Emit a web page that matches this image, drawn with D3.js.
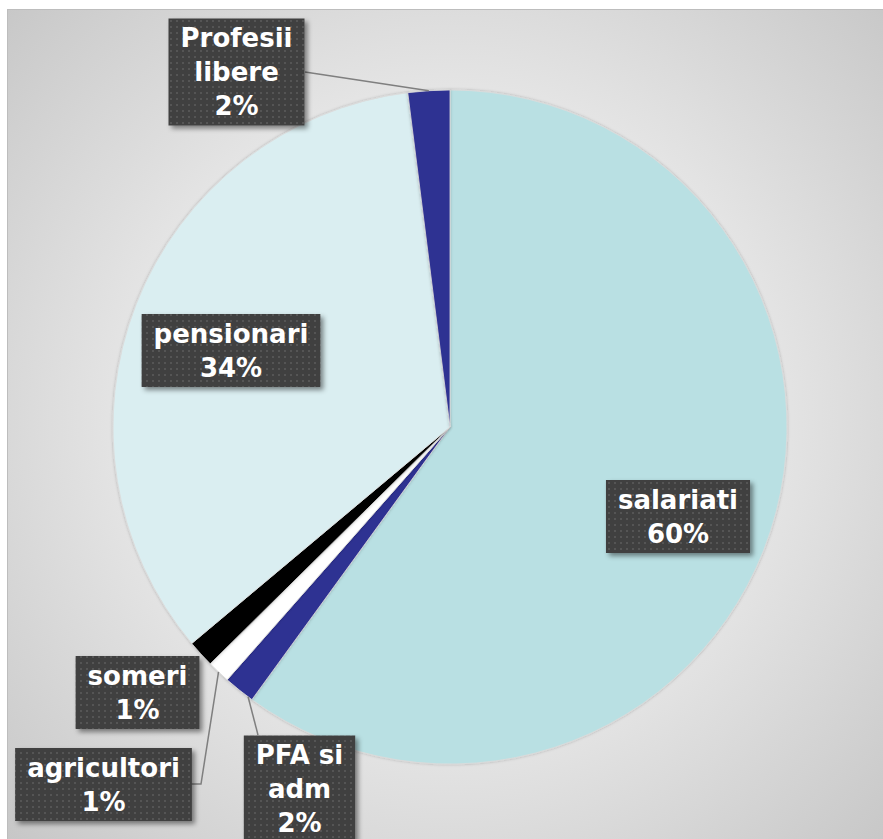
<!DOCTYPE html>
<html>
<head>
<meta charset="utf-8">
<script src="https://cdn.jsdelivr.net/npm/d3@7/dist/d3.min.js"></script>
<style>
  html, body { margin: 0; padding: 0; background: #fff; }
  svg { display: block; }
</style>
</head>
<body>
<div id="chart"></div>
<script>
// slice order, clockwise from 12 o'clock
const categories = ['salariati', 'PFA si adm', 'agricultori', 'someri', 'pensionari', 'Profesii libere']
const values = [60.0, 1.5, 1.1, 1.3, 34.1, 2.0]
const labelLines = [['salariati'], ['PFA si', 'adm'], ['agricultori'], ['someri'], ['pensionari'], ['Profesii', 'libere']]
const colors = ['#b9e0e3', '#2e3192', '#ffffff', '#000000', '#daeef1', '#2e3192']

const width = 883, height = 839
const center = { x: 450, y: 427 }
const radius = 337

// where the label boxes sit (box centres), and how leader lines are routed
const labelLayout = {
  'salariati':       { cx: 678,   cy: 516.5 },
  'PFA si adm':      { cx: 299.5, cy: 789, leader: [[258, 735]], t: 0.15 },
  'agricultori':     { cx: 103.5, cy: 784.5, leader: [[190, 784], [201, 784]], t: 0.5 },
  'someri':          { cx: 137.5, cy: 692.5 },
  'pensionari':      { cx: 231,   cy: 350.5 },
  'Profesii libere': { cx: 236.5, cy: 72, leader: [[305, 72]], t: 0.5 }
}

const data = categories.map((c, i) => ({ name: c, value: values[i], lines: labelLines[i], color: colors[i] }))
const total = d3.sum(values)

const svg = d3.select('#chart').append('svg')
  .attr('width', width)
  .attr('height', height)

const defs = svg.append('defs')

const bg = defs.append('radialGradient')
  .attr('id', 'bg')
  .attr('gradientUnits', 'userSpaceOnUse')
  .attr('cx', center.x).attr('cy', center.y - 10)
  .attr('r', 620)
bg.append('stop').attr('offset', '0').attr('stop-color', '#ffffff')
bg.append('stop').attr('offset', '0.35').attr('stop-color', '#f0f0f0')
bg.append('stop').attr('offset', '1').attr('stop-color', '#c6c6c6')

// dotted texture used on label boxes
const dots = defs.append('pattern')
  .attr('id', 'dots')
  .attr('width', 6).attr('height', 6)
  .attr('patternUnits', 'userSpaceOnUse')
dots.append('rect').attr('width', 6).attr('height', 6).attr('fill', '#3f3f3f')
dots.append('rect').attr('x', 2).attr('y', 2).attr('width', 2).attr('height', 2).attr('fill', '#545454')

const shadow = defs.append('filter').attr('id', 'shadow')
  .attr('x', '-20%').attr('y', '-20%').attr('width', '150%').attr('height', '150%')
shadow.append('feDropShadow')
  .attr('dx', 3).attr('dy', 3).attr('stdDeviation', 2.5)
  .attr('flood-color', '#000').attr('flood-opacity', 0.45)

const pieShadow = defs.append('filter').attr('id', 'pieShadow')
  .attr('x', '-10%').attr('y', '-10%').attr('width', '120%').attr('height', '120%')
pieShadow.append('feDropShadow')
  .attr('dx', 0).attr('dy', 0).attr('stdDeviation', 1.5)
  .attr('flood-color', '#000').attr('flood-opacity', 0.25)

// chart area
svg.append('rect')
  .attr('x', 7.5).attr('y', 9.5)
  .attr('width', width).attr('height', height)
  .attr('fill', 'url(#bg)')
  .attr('stroke', '#bdbdbd')
  .attr('stroke-width', 1)

const pie = d3.pie().sort(null).value(d => d.value)
const arcs = pie(data)
const arc = d3.arc().innerRadius(0).outerRadius(radius)

const g = svg.append('g').attr('transform', `translate(${center.x},${center.y})`)

g.selectAll('.slice')
  .data(arcs)
  .enter().append('path')
  .classed('slice', true)
  .attr('d', arc)
  .attr('fill', d => d.data.color)
  .attr('stroke', '#dcdcdc')
  .attr('stroke-width', 0.8)
  .attr('filter', 'url(#pieShadow)')

// leader lines
const pointOnArc = (d, t) => {
  const a = d.startAngle + (d.endAngle - d.startAngle) * t
  return [center.x + Math.sin(a) * radius, center.y - Math.cos(a) * radius]
}

svg.selectAll('.leader')
  .data(arcs.filter(d => labelLayout[d.data.name].leader))
  .enter().append('polyline')
  .classed('leader', true)
  .attr('points', d => {
    const l = labelLayout[d.data.name]
    return l.leader.concat([pointOnArc(d, l.t)]).map(p => p.join(',')).join(' ')
  })
  .attr('fill', 'none')
  .attr('stroke', '#7f7f7f')
  .attr('stroke-width', 1.5)

// label boxes
const lineH = 34
const labels = svg.selectAll('.label')
  .data(arcs)
  .enter().append('g')
  .classed('label', true)

labels.each(function (d) {
  const l = labelLayout[d.data.name]
  const sel = d3.select(this)
  const lines = d.data.lines.concat([Math.round(d.data.value / total * 100) + '%'])
  const box = sel.append('rect').attr('fill', 'url(#dots)').attr('filter', 'url(#shadow)')
  const text = sel.append('text')
    .attr('fill', '#ffffff')
    .attr('font-family', '"DejaVu Sans", Verdana, sans-serif')
    .attr('font-weight', 'bold')
    .attr('font-size', 26)
    .attr('text-anchor', 'middle')
  const y0 = l.cy - (lines.length - 1) * lineH / 2
  lines.forEach((s, i) => {
    text.append('tspan')
      .attr('x', l.cx)
      .attr('y', y0 + i * lineH)
      .attr('dy', '0.36em')
      .text(s)
  })
  const w = text.node().getBBox().width + 24
  const h = lines.length * lineH + 5
  box.attr('x', l.cx - w / 2).attr('y', l.cy - h / 2).attr('width', w).attr('height', h)
})
</script>
</body>
</html>
